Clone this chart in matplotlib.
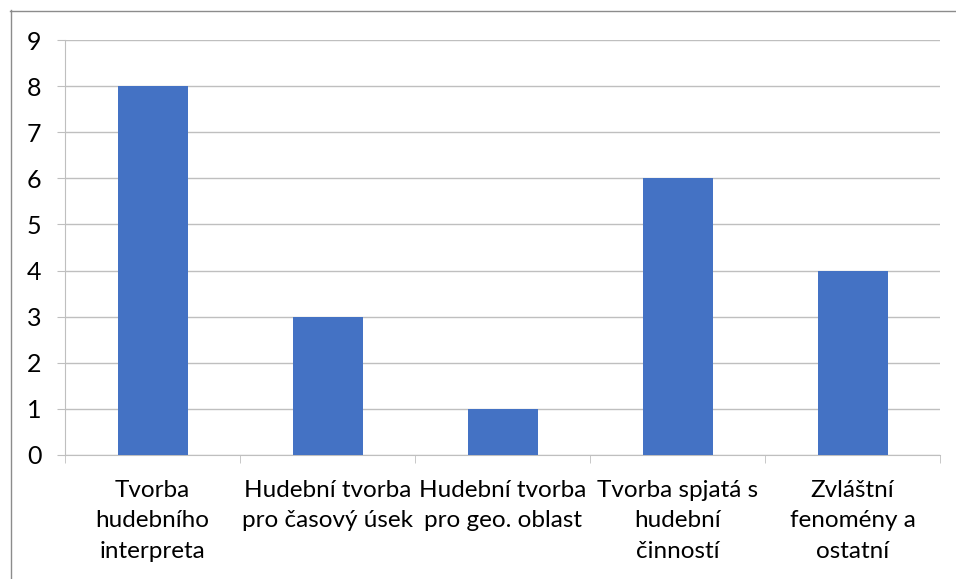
import matplotlib
matplotlib.use("Agg")
import matplotlib.pyplot as plt
import numpy as np

categories = [
    "Tvorba\nhudebního\ninterpreta",
    "Hudební tvorba\npro časový úsek",
    "Hudební tvorba\npro geo. oblast",
    "Tvorba spjatá s\nhudební\nčinností",
    "Zvláštní\nfenomény a\nostatní",
]
values = [8, 3, 1, 6, 4]
yticks = list(range(0, 10))

plt.rcParams['font.family'] = ['Lato', 'DejaVu Sans']

fig = plt.figure(figsize=(9.56, 5.79), dpi=100)
W, H = 956, 579
ax = fig.add_axes([65 / W, 1 - 455 / H, (940 - 65) / W, (455 - 40) / H])

x = np.arange(len(categories))
ax.bar(x, values, width=0.4, color='#4472C4', zorder=3)

ax.set_xlim(-0.5, len(categories) - 0.5)
ax.set_ylim(0, 9)
ax.set_yticks(yticks)
ax.yaxis.grid(True, color='#bfbfbf', linewidth=1.0, zorder=0)
ax.tick_params(axis='y', length=6, color='#bfbfbf', labelsize=18, pad=11)

ax.set_xticks(x)
ax.set_xticklabels(categories, fontsize=17.5, linespacing=1.55)
ax.tick_params(axis='x', which='major', length=0, pad=18)
ax.set_xticks(np.arange(-0.5, len(categories)), minor=True)
ax.tick_params(axis='x', which='minor', length=6, color='#bfbfbf', direction='out')

for side in ['top', 'right']:
    ax.spines[side].set_visible(False)
ax.spines['left'].set_color('#bfbfbf')
ax.spines['bottom'].set_color('#bfbfbf')

# chart area border (left and top edges visible in the crop)
fig.add_artist(plt.Line2D([10.5 / W, 10.5 / W], [0, 1 - 10 / H], transform=fig.transFigure,
                          color='#8c8c8c', linewidth=1))
fig.add_artist(plt.Line2D([10 / W, 1], [1 - 10.5 / H, 1 - 10.5 / H], transform=fig.transFigure,
                          color='#8c8c8c', linewidth=1))

fig.savefig('out.png', dpi=100)
